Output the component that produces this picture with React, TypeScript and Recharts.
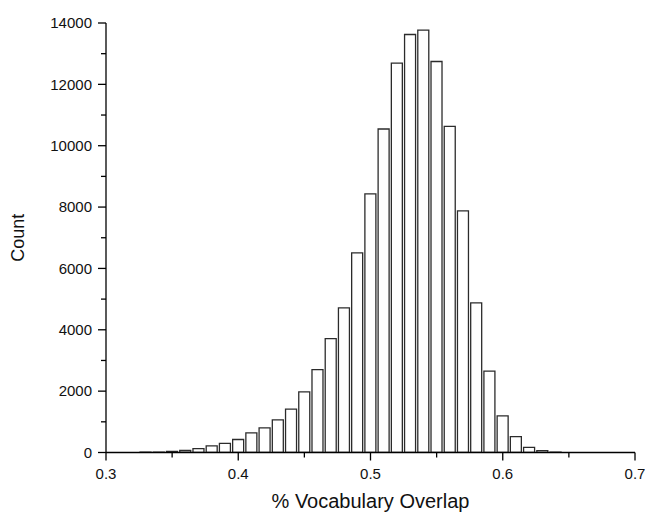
import React from 'react';
import { BarChart, Bar, XAxis, YAxis, Label } from 'recharts';

const binCenters: number[] = [0.33, 0.34, 0.35, 0.36, 0.37, 0.38, 0.39, 0.40, 0.41, 0.42, 0.43, 0.44, 0.45, 0.46, 0.47, 0.48, 0.49, 0.50, 0.51, 0.52, 0.53, 0.54, 0.55, 0.56, 0.57, 0.58, 0.59, 0.60, 0.61, 0.62, 0.63, 0.64];
const counts: number[] = [8, 15, 35, 65, 125, 215, 300, 423, 639, 801, 1062, 1411, 1975, 2704, 3714, 4712, 6504, 8430, 10545, 12690, 13625, 13770, 12745, 10630, 7873, 4880, 2650, 1195, 520, 170, 60, 15];
const xTicks: number[] = [0.3, 0.35, 0.4, 0.45, 0.5, 0.55, 0.6, 0.65, 0.7];
const yTicks: number[] = [0, 1000, 2000, 3000, 4000, 5000, 6000, 7000, 8000, 9000, 10000, 11000, 12000, 13000, 14000];

const data = binCenters.map((x, i) => ({ x, count: counts[i] }));

const FONT = '"Liberation Sans", Arial, Helvetica, sans-serif';

const XTick = (props: any) => {
  const { x, y, payload } = props;
  const v: number = payload.value;
  const major = Math.abs(v * 10 - Math.round(v * 10)) < 1e-6;
  return (
    <g>
      <line x1={x} x2={x} y1={y} y2={y + (major ? 8 : 5)} stroke="#000" strokeWidth={1.3} />
      {major && (
        <text x={x} y={y + 26} textAnchor="middle" fontSize={15} fontFamily={FONT} fill="#111">
          {v.toFixed(1)}
        </text>
      )}
    </g>
  );
};

const YTick = (props: any) => {
  const { x, y, payload } = props;
  const v: number = payload.value;
  const major = v % 2000 === 0;
  return (
    <g>
      <line x1={x - (major ? 8 : 5)} x2={x} y1={y} y2={y} stroke="#000" strokeWidth={1.3} />
      {major && (
        <text x={x - 14} y={y} dy="0.355em" textAnchor="end" fontSize={15} fontFamily={FONT} fill="#111">
          {v}
        </text>
      )}
    </g>
  );
};

export default function App() {
  return (
    <div style={{ position: 'absolute', left: 0, top: 0, width: 645, height: 512, background: '#fff' }}>
      <BarChart
        width={645}
        height={512}
        data={data}
        margin={{ top: 23, right: 10, left: 0, bottom: 0 }}
        barSize={11}
      >
        <XAxis
          dataKey="x"
          type="number"
          domain={[0.3, 0.7]}
          ticks={xTicks}
          interval={0}
          height={59.5}
          tickSize={0}
          tickMargin={0}
          tickLine={false}
          axisLine={{ stroke: '#000', strokeWidth: 1.3 }}
          tick={<XTick />}
          allowDataOverflow
        >
          <Label
            content={(p: any) => {
              const vb = p.viewBox || {};
              return (
                <text
                  x={vb.x + vb.width / 2}
                  y={vb.y + vb.height - 4.5}
                  textAnchor="middle"
                  fontSize={20}
                  fontFamily={FONT}
                  fill="#111"
                >
                  % Vocabulary Overlap
                </text>
              );
            }}
          />
        </XAxis>
        <YAxis
          type="number"
          domain={[0, 14000]}
          ticks={yTicks}
          interval={0}
          width={106}
          tickSize={0}
          tickMargin={0}
          tickLine={false}
          axisLine={{ stroke: '#000', strokeWidth: 1.3 }}
          tick={<YTick />}
          allowDataOverflow
        >
          <Label
            content={(p: any) => {
              const vb = p.viewBox || {};
              const cx = 18;
              const cy = vb.y + vb.height / 2;
              return (
                <text
                  x={cx}
                  y={cy}
                  transform={`rotate(-90, ${cx}, ${cy})`}
                  textAnchor="middle"
                  dominantBaseline="central"
                  fontSize={18}
                  fontFamily={FONT}
                  fill="#111"
                >
                  Count
                </text>
              );
            }}
          />
        </YAxis>
        <Bar dataKey="count" fill="#fff" stroke="#2b2b2b" strokeWidth={1.3} isAnimationActive={false} />
      </BarChart>
    </div>
  );
}
